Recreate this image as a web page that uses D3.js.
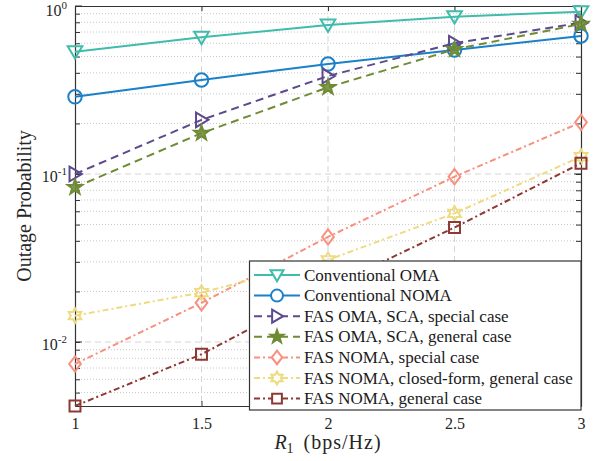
<!DOCTYPE html>
<html><head><meta charset="utf-8">
<script src="https://cdn.jsdelivr.net/npm/d3@7"></script>
<style>
body{margin:0;background:#fff;}
svg{display:block;font-family:"Liberation Serif","Times New Roman",serif;}
</style></head>
<body>
<svg id="chart" width="601" height="461"></svg>
<script>
// ---- data ----
const xValues = [1, 1.5, 2, 2.5, 3];
const convOMA       = [0.535, 0.651, 0.77, 0.864, 0.925];
const convNOMA      = [0.288, 0.363, 0.452, 0.547, 0.663];
const fasOmaSpecial = [0.100, 0.210, 0.383, 0.600, 0.796];
const fasOmaGeneral = [0.0833, 0.175, 0.328, 0.552, 0.781];
const fasNomaSpecial= [0.0074, 0.0171, 0.0422, 0.0964, 0.203];
const fasNomaClosed = [0.01435, 0.0197, 0.0308, 0.0583, 0.127];
const fasNomaGeneral= [0.00416, 0.00845, 0.021, 0.048, 0.116];
const seriesNames = ["Conventional OMA","Conventional NOMA","FAS OMA, SCA, special case","FAS OMA, SCA, general case","FAS NOMA, special case","FAS NOMA, closed-form, general case","FAS NOMA, general case"];
const xTickLabels = ["1","1.5","2","2.5","3"];
const yTickExponents = ["0","-1","-2"];

const series = [
  {name:seriesNames[0], values:convOMA, color:"#3fbcab", dash:null, marker:"tridown"},
  {name:seriesNames[1], values:convNOMA, color:"#1a80c8", dash:null, marker:"circle"},
  {name:seriesNames[2], values:fasOmaSpecial, color:"#5d4a8c", dash:"8,5", marker:"triright"},
  {name:seriesNames[3], values:fasOmaGeneral, color:"#6f8b34", dash:"8,5", marker:"star"},
  {name:seriesNames[4], values:fasNomaSpecial, color:"#f8907f", dash:"6,3,2,3", marker:"diamond"},
  {name:seriesNames[5], values:fasNomaClosed, color:"#eedb7f", dash:"6,3,2,3", marker:"hexagram"},
  {name:seriesNames[6], values:fasNomaGeneral, color:"#8e3833", dash:"6,3,2,3", marker:"square"}
];

const svg = d3.select("#chart");
const L=75, R=581, T=6, B=406;
const x = d3.scaleLinear().domain([1,3]).range([L,R]);
const y = d3.scaleLog().domain([0.00416,1]).range([B,T]);
const axisColor="#333333";
const FONT="Liberation Serif, Times New Roman, serif";

// grid
const g = svg.append("g");
const minorVals=[];
[0.001,0.01,0.1].forEach(d=>{for(let k=2;k<=9;k++){const v=d*k; if(v>=0.00416&&v<1) minorVals.push(v);}});
g.selectAll(".minor").data(minorVals).enter().append("line")
  .attr("x1",L).attr("x2",R).attr("y1",d=>y(d)).attr("y2",d=>y(d))
  .attr("stroke","#c8c8c8").attr("stroke-width",1).attr("stroke-dasharray","1,2");
const majorY=[0.01,0.1];
g.selectAll(".majY").data(majorY).enter().append("line")
  .attr("x1",L).attr("x2",R).attr("y1",d=>y(d)).attr("y2",d=>y(d))
  .attr("stroke","#d4d4d4").attr("stroke-width",1).attr("stroke-dasharray","6,4");
g.selectAll(".majX").data([1.5,2,2.5]).enter().append("line")
  .attr("x1",d=>x(d)).attr("x2",d=>x(d)).attr("y1",T).attr("y2",B)
  .attr("stroke","#d4d4d4").attr("stroke-width",1).attr("stroke-dasharray","6,4");

// axes
const xAxisB = d3.axisBottom(x).tickValues(xValues).tickFormat((d,i)=>xTickLabels[i]).tickSizeInner(-5).tickSizeOuter(0).tickPadding(12);
const xAxisT = d3.axisTop(x).tickValues(xValues).tickFormat("").tickSizeInner(-5).tickSizeOuter(0);
const yTicksAll = [1,0.1,0.01].concat(minorVals);
const yAxisL = d3.axisLeft(y).tickValues(yTicksAll).tickFormat("").tickSizeInner(-5).tickSizeOuter(0);
const yAxisR = d3.axisRight(y).tickValues(yTicksAll).tickFormat("").tickSizeInner(-5).tickSizeOuter(0);
function styleAxis(sel){
  sel.selectAll("path").attr("stroke",axisColor).attr("stroke-width",1.2);
  sel.selectAll("line").attr("stroke",axisColor).attr("stroke-width",1);
  sel.selectAll("text").attr("fill","#262626").style("font-size","16px").style("font-family",FONT);
}
svg.append("g").attr("transform",`translate(0,${B})`).call(xAxisB).call(styleAxis);
svg.append("g").attr("transform",`translate(0,${T})`).call(xAxisT).call(styleAxis);
svg.append("g").attr("transform",`translate(${L},0)`).call(yAxisL).call(styleAxis);
svg.append("g").attr("transform",`translate(${R},0)`).call(yAxisR).call(styleAxis);
[1,0.1,0.01].forEach(v=>{
  svg.append("line").attr("x1",L).attr("x2",L+7).attr("y1",y(v)).attr("y2",y(v)).attr("stroke",axisColor);
  svg.append("line").attr("x1",R-7).attr("x2",R).attr("y1",y(v)).attr("y2",y(v)).attr("stroke",axisColor);
});

// y tick labels 10^k
const ylab = svg.append("g");
[1,0.1,0.01].forEach((v,i)=>{
  const t = ylab.append("text").attr("x",L-8).attr("y",y(v)+ (i===0?10:8)).attr("text-anchor","end")
    .attr("fill","#262626").style("font-size","16px");
  t.append("tspan").text("10");
  t.append("tspan").attr("dy",-7).style("font-size","11px").text(yTickExponents[i]);
});

// axis labels
svg.append("text").attr("transform",`translate(31,${(T+B)/2}) rotate(-90)`).attr("text-anchor","middle")
  .attr("fill","#262626").style("font-size","20px").text("Outage Probability");
const xl = svg.append("text").attr("x",(L+R)/2).attr("y",449).attr("text-anchor","middle").attr("fill","#262626").style("font-size","20px");
xl.append("tspan").style("font-style","italic").text("R");
xl.append("tspan").attr("dy",4).style("font-size","14px").text("1");
xl.append("tspan").attr("dy",-4).attr("dx",10).style("letter-spacing","1px").text("(bps/Hz)");

// markers
function markerPath(type, s){
  switch(type){
    case "tridown": return `M${-s},${-s*0.75}L${s},${-s*0.75}L0,${s*0.95}Z`;
    case "triright": return `M${-s*0.75},${-s}L${s*0.95},0L${-s*0.75},${s}Z`;
    case "circle": return d3.symbol(d3.symbolCircle, Math.PI*s*s*0.85)();
    case "diamond": return `M0,${-s*1.05}L${s*0.8},0L0,${s*1.05}L${-s*0.8},0Z`;
    case "square": return `M${-s*0.75},${-s*0.75}H${s*0.75}V${s*0.75}H${-s*0.75}Z`;
    case "star": { let p=""; for(let k=0;k<10;k++){const r=k%2?s*0.42:s*1.05; const a=-Math.PI/2+k*Math.PI/5; p+=(k?"L":"M")+(r*Math.cos(a)).toFixed(2)+","+(r*Math.sin(a)).toFixed(2);} return p+"Z"; }
    case "hexagram": { let p=""; for(let k=0;k<12;k++){const r=k%2?s*0.58:s*1.0; const a=-Math.PI/2+k*Math.PI/6; p+=(k?"L":"M")+(r*Math.cos(a)).toFixed(2)+","+(r*Math.sin(a)).toFixed(2);} return p+"Z"; }
  }
}
const line = d3.line().x((d,i)=>x(xValues[i])).y(d=>y(d));
const plot = svg.append("g");
series.forEach(s=>{
  plot.append("path").datum(s.values).attr("d",line).attr("fill","none")
    .attr("stroke",s.color).attr("stroke-width",2).attr("stroke-dasharray",s.dash);
  plot.selectAll(null).data(s.values).enter().append("path")
    .attr("transform",(d,i)=>`translate(${x(xValues[i])},${y(d)})`)
    .attr("d",markerPath(s.marker,7.3)).attr("fill",s.marker==="star"?s.color:"none")
    .attr("fill-opacity",s.marker==="star"?0.85:0)
    .attr("stroke",s.color).attr("stroke-width",2);
});

// legend
const lg = svg.append("g");
lg.append("rect").attr("x",249.5).attr("y",261).attr("width",331.5).attr("height",149)
  .attr("fill","#fff").attr("stroke",axisColor).attr("stroke-width",1.2);
series.forEach((s,i)=>{
  const yy = 275 + i*20.6;
  lg.append("line").attr("x1",254).attr("x2",300).attr("y1",yy).attr("y2",yy)
    .attr("stroke",s.color).attr("stroke-width",2).attr("stroke-dasharray",s.dash);
  lg.append("path").attr("transform",`translate(277,${yy})`).attr("d",markerPath(s.marker,6.5))
    .attr("fill",s.marker==="star"?s.color:"#fff").attr("stroke",s.color).attr("stroke-width",2);
  lg.append("text").attr("x",304).attr("y",yy+5.5).attr("fill","#1a1a1a").style("font-size","17px").text(s.name);
});
</script>
</body></html>
